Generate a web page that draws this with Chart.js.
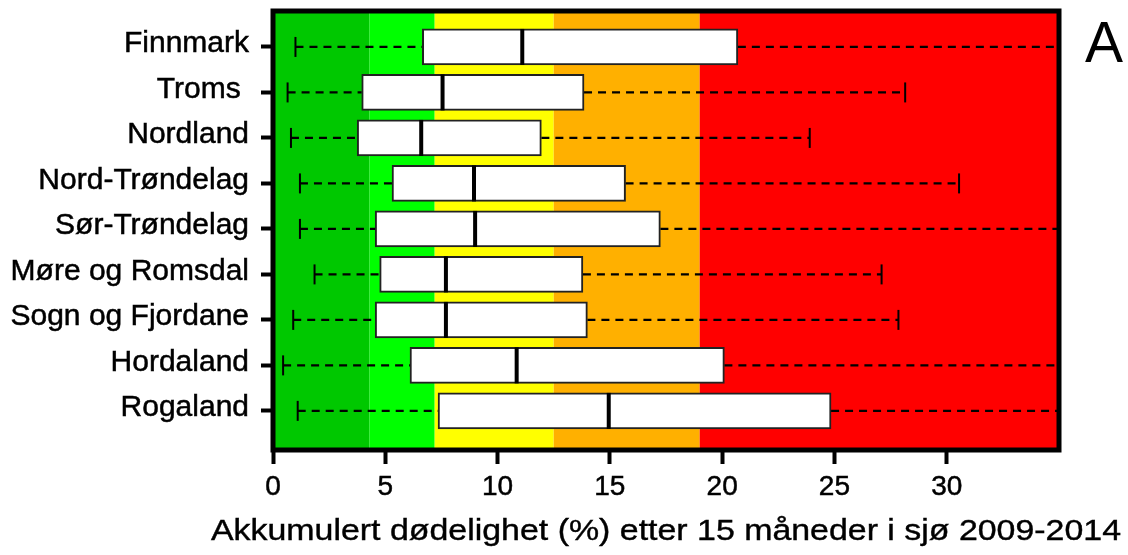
<!DOCTYPE html>
<html>
<head>
<meta charset="utf-8">
<script src="https://cdn.jsdelivr.net/npm/chart.js@4.4.1/dist/chart.umd.min.js"></script>
<style>
    html, body { margin: 0; padding: 0; background: #fff; }
    #wrap { width: 1128px; height: 555px; }
</style>
</head>
<body>
<div id="wrap"><canvas id="boxChart"></canvas></div>
<script>
// Data (values in %)
const regions = ['Finnmark', 'Troms ', 'Nordland', 'Nord-Trøndelag', 'Sør-Trøndelag', 'Møre og Romsdal', 'Sogn og Fjordane', 'Hordaland', 'Rogaland'];
const whiskerLow = [1.0, 0.65, 0.8, 1.2, 1.2, 1.85, 0.9, 0.45, 1.1];
const quartile1 = [6.65, 3.95, 3.75, 5.3, 4.55, 4.75, 4.55, 6.1, 7.35];
const medians = [11.1, 7.55, 6.6, 8.95, 9.0, 7.7, 7.7, 10.85, 14.95];
const quartile3 = [20.7, 13.85, 11.95, 15.7, 17.25, 13.8, 14.0, 20.1, 24.85];
const whiskerHigh = [36, 28.15, 23.9, 30.55, 36, 27.1, 27.85, 36, 36]; // 36 = runs past the end of the axis
const xTicks = [0, 5, 10, 15, 20, 25, 30];
const zoneEdges = [0, 4.3, 7.2, 12.5, 19, 35];
const zoneColors = ['#00c800', '#00ff00', '#ffff00', '#ffb000', '#ff0000'];
const axisTitle = 'Akkumulert dødelighet (%) etter 15 måneder i sjø 2009-2014';
const panelLetter = 'A';

const boxData = regions.map((r, i) => ({ x: [quartile1[i], quartile3[i]], y: i }));
const medianData = regions.map((r, i) => ({ x: medians[i], y: i }));
const capData = [];
const whiskerData = [];
regions.forEach((r, i) => {
    capData.push({ x: whiskerLow[i], y: i }, { x: whiskerHigh[i], y: i });
    // null breaks the line so each whisker is its own segment
    whiskerData.push(
        { x: whiskerLow[i], y: i }, { x: quartile1[i], y: i }, { x: null, y: i },
        { x: quartile3[i], y: i }, { x: whiskerHigh[i], y: i }, { x: null, y: i }
    );
});

const FONT = '"Liberation Sans", Arial, sans-serif';

// coloured zones behind the boxes; frame, axis title and panel letter on top
const zonePlugin = {
    id: 'zones',
    beforeDatasetsDraw(chart) {
        const { ctx, chartArea, scales } = chart;
        ctx.save();
        for (let i = 0; i < zoneColors.length; i++) {
            const x0 = scales.x.getPixelForValue(zoneEdges[i]);
            const x1 = scales.x.getPixelForValue(zoneEdges[i + 1]);
            ctx.fillStyle = zoneColors[i];
            ctx.fillRect(x0, chartArea.top, x1 - x0, chartArea.bottom - chartArea.top);
        }
        ctx.restore();
    },
    afterDraw(chart) {
        const { ctx, chartArea } = chart;
        ctx.save();
        ctx.strokeStyle = '#000';
        ctx.lineWidth = 5;
        ctx.strokeRect(chartArea.left, chartArea.top, chartArea.right - chartArea.left, chartArea.bottom - chartArea.top);

        // axis title is wider than the plot in the original, so draw it here (stretched a bit)
        ctx.fillStyle = '#000';
        ctx.strokeStyle = '#000';
        ctx.lineWidth = 0.4;
        ctx.font = '29px ' + FONT;
        ctx.textAlign = 'center';
        ctx.textBaseline = 'alphabetic';
        const w = ctx.measureText(axisTitle).width;
        const sx = 910 / w;
        const cx = (chartArea.left + chartArea.right) / 2;
        ctx.save();
        ctx.translate(cx, chart.height - 15);
        ctx.scale(sx, 1);
        ctx.fillText(axisTitle, 0, 0);
        ctx.strokeText(axisTitle, 0, 0);
        ctx.restore();

        ctx.font = '57px ' + FONT;
        ctx.textAlign = 'left';
        ctx.fillText(panelLetter, chartArea.right + 26, chartArea.top + 51);
        ctx.restore();
    }
};

const ctx = document.getElementById('boxChart');
new Chart(ctx, {
    type: 'bar',
    data: {
        datasets: [
            {
                type: 'scatter',
                data: medianData,
                pointStyle: 'line',
                rotation: 90,
                radius: 18,
                borderWidth: 4,
                borderColor: '#000',
                order: 0
            },
            {
                type: 'scatter',
                data: capData,
                pointStyle: 'line',
                rotation: 90,
                radius: 10,
                borderWidth: 2,
                borderColor: '#000',
                clip: 0,
                order: 1
            },
            {
                data: boxData,
                backgroundColor: '#fff',
                borderColor: '#222',
                borderWidth: 2,
                borderSkipped: false,
                barThickness: 36,
                order: 2
            },
            {
                type: 'line',
                data: whiskerData,
                borderColor: '#000',
                borderWidth: 2.2,
                borderDash: [8, 6],
                pointRadius: 0,
                spanGaps: false,
                clip: 0,
                order: 3
            }
        ]
    },
    options: {
        indexAxis: 'y',
        responsive: true,
        maintainAspectRatio: false,
        animation: false,
        events: [],
        // no auto padding: the median markers would otherwise push the plot down
        layout: { autoPadding: false, padding: { top: 11, right: 69, left: 0, bottom: 0 } },
        plugins: {
            legend: { display: false },
            tooltip: { enabled: false }
        },
        scales: {
            x: {
                type: 'linear',
                min: 0,
                max: 35,
                afterBuildTicks: (scale) => { scale.ticks = xTicks.map(v => ({ value: v })); },
                afterFit: (scale) => {
                    scale.height = 105;
                    scale.paddingLeft = 0;
                    scale.paddingRight = 0;
                },
                border: { display: false },
                grid: {
                    offset: false,
                    drawOnChartArea: false,
                    tickLength: 14,
                    tickWidth: 4,
                    tickColor: '#000'
                },
                ticks: {
                    color: '#000',
                    padding: 6,
                    maxRotation: 0,
                    textStrokeColor: '#000',
                    textStrokeWidth: 0.5,
                    font: { family: FONT, size: 28 }
                }
            },
            y: {
                type: 'linear',
                reverse: true,
                offset: false,
                min: -0.79,
                max: 8.86,
                afterBuildTicks: (scale) => { scale.ticks = regions.map((r, i) => ({ value: i })); },
                afterFit: (scale) => {
                    scale.width = 273;
                    scale.paddingTop = 0;
                    scale.paddingBottom = 0;
                },
                border: { display: false },
                grid: {
                    offset: false,
                    drawOnChartArea: false,
                    tickLength: 12,
                    tickWidth: 4,
                    tickColor: '#000'
                },
                ticks: {
                    color: '#000',
                    padding: 12,
                    labelOffset: -3,
                    textStrokeColor: '#000',
                    textStrokeWidth: 0.5,
                    callback: (v) => regions[v],
                    font: { family: FONT, size: 30, lineHeight: 0.3 }
                }
            }
        }
    },
    plugins: [zonePlugin]
});
</script>
</body>
</html>
